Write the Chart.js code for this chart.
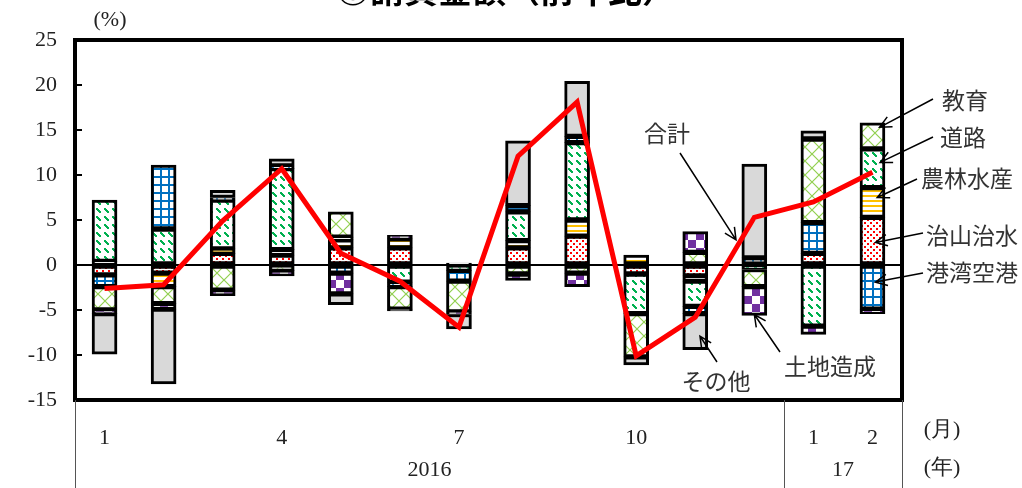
<!DOCTYPE html>
<html>
<head>
<meta charset="utf-8">
<script src="https://cdn.jsdelivr.net/npm/chart.js@4.4.1/dist/chart.umd.min.js"></script>
<style>
  body { margin: 0; background: #fff; }
  #wrap { width: 1022px; height: 488px; }
</style>
</head>
<body>
<div id="wrap"><canvas id="c" width="1022" height="488"></canvas></div>
<script>
// months Jan 2016 .. Feb 2017
const monthLabels = ['1', '', '', '4', '', '', '7', '', '', '10', '', '', '1', '2'];
const yearLabels = ['2016', '17'];

// contribution by work type (percentage points)
const chisan = [-1.1, -0.9, 1.3, 1.1, 1.9, 1.9, 0.2, 1.9, 3.2, -1.0, -1.2, null, 1.3, 5.3];
const nourin = [0.4, -1.5, 0.5, 0.6, 0.9, 1.0, null, 0.8, 1.8, 1.1, -0.6, null, null, 3.3];
const douro = [6.8, 4.0, 5.4, 9.0, 0.3, -1.9, -0.6, 3.2, 8.6, -4.4, -2.8, -0.5, -6.8, 4.3];
const kouwan = [-1.3, 7.1, 0.3, 0.3, -0.9, -0.5, -1.2, 0.7, 0.7, null, -0.8, 0.8, 3.4, -4.9];
const kyouiku = [-2.6, -1.9, -2.8, -0.6, 2.8, -2.5, -3.4, -1.0, -0.9, -4.8, 1.4, -1.9, 9.3, 2.9];
const tochi = [-0.4, -0.6, -0.6, -0.6, -2.3, 0.4, -0.3, -0.7, -1.5, null, 2.3, -3.2, -0.9, -0.5];
const sonota = [-4.5, -8.3, 0.8, 0.8, -1.2, -0.2, -1.6, 7.2, 6.1, -0.9, -4.0, 10.4, 0.9, null];
const total = [-2.6, -2.2, 4.9, 10.7, 1.3, -1.8, -6.9, 12.1, 18.1, -10.1, -5.8, 5.3, 7.0, 10.3];

const serif = "'Liberation Serif', 'DejaVu Serif', serif";
const jp = "'Noto Sans CJK JP', sans-serif";

const ctx = document.getElementById('c').getContext('2d');

function pattern(size, draw) {
    const c = document.createElement('canvas');
    c.width = c.height = size;
    const g = c.getContext('2d');
    g.fillStyle = '#fff';
    g.fillRect(0, 0, size, size);
    draw(g);
    return ctx.createPattern(c, 'repeat');
}

const pGrid = pattern(8, g => {
    g.fillStyle = '#0070C0';
    g.fillRect(0, 0, 2, 8);
    g.fillRect(0, 0, 8, 2);
});
const pDots = pattern(6, g => {
    g.fillStyle = '#FF0000';
    g.fillRect(0, 0, 2, 2);
    g.fillRect(3, 3, 2, 2);
});
const pStripe = pattern(5, g => {
    g.fillStyle = '#FFC000';
    g.fillRect(0, 0, 5, 2);
});
const pDiag = pattern(8, g => {
    g.fillStyle = '#00B050';
    for (let i = 0; i < 4; i++) g.fillRect(i, i, 2, 2);
});
const pCross = pattern(14, g => {
    g.strokeStyle = '#92D050';
    g.lineWidth = 1.2;
    g.beginPath();
    g.moveTo(0, 0); g.lineTo(14, 14);
    g.moveTo(14, 0); g.lineTo(0, 14);
    g.stroke();
});
const pCheck = pattern(16, g => {
    g.fillStyle = '#7030A0';
    g.fillRect(0, 0, 8, 8);
    g.fillRect(8, 8, 8, 8);
});

function barSet(label, data, fill) {
    return {
        type: 'bar', label, data, stack: 'all',
        backgroundColor: fill, borderColor: '#000', borderWidth: 3,
        borderSkipped: false, barThickness: 25,
    };
}

// annotation labels: text position, arrow tail, arrow tip as [category index, value]
const notes = [
    { text: '合計', tx: 667, ty: 133, from: [680, 153], at: [10.69, 2.8] },
    { text: 'その他', tx: 716, ty: 381, from: [717, 362], at: [10.08, -7.9] },
    { text: '土地造成', tx: 830, ty: 366, from: [780, 352], at: [11.0, -5.5] },
    { text: '教育', tx: 965, ty: 100, from: [933, 99], at: [13.12, 15.3] },
    { text: '道路', tx: 963, ty: 137, from: [933, 137], at: [13.13, 11.4] },
    { text: '農林水産', tx: 967, ty: 178, from: [917, 179], at: [13.08, 7.5] },
    { text: '治山治水', tx: 972, ty: 235, from: [923, 233], at: [13.05, 2.5] },
    { text: '港湾空港', tx: 972, ty: 272, from: [923, 273], at: [13.05, -1.9] },
];

function arrow(c, x1, y1, x2, y2) {
    const a = Math.atan2(y2 - y1, x2 - x1);
    c.beginPath();
    c.moveTo(x1, y1); c.lineTo(x2, y2);
    c.moveTo(x2 - 13 * Math.cos(a - 0.45), y2 - 13 * Math.sin(a - 0.45));
    c.lineTo(x2, y2);
    c.lineTo(x2 - 13 * Math.cos(a + 0.45), y2 - 13 * Math.sin(a + 0.45));
    c.stroke();
}

const decor = {
    id: 'decor',
    afterDraw(chart) {
        const c = chart.ctx, a = chart.chartArea;
        const xs = chart.scales.x, ys = chart.scales.y;
        c.save();
        // frame
        c.strokeStyle = '#000';
        c.lineWidth = 4;
        c.strokeRect(a.left, a.top, a.right - a.left, a.bottom - a.top);
        // inner ticks
        c.lineWidth = 2;
        ys.ticks.forEach(t => {
            const y = ys.getPixelForValue(t.value);
            c.beginPath(); c.moveTo(a.left, y); c.lineTo(a.left + 7, y); c.stroke();
        });
        // category table lines below the axis
        const split = (xs.getPixelForValue(11) + xs.getPixelForValue(12)) / 2;
        c.strokeStyle = '#555';
        c.lineWidth = 1;
        [a.left, split, a.right].forEach(x => {
            c.beginPath(); c.moveTo(Math.round(x) + 0.5, a.bottom); c.lineTo(Math.round(x) + 0.5, 488); c.stroke();
        });
        c.fillStyle = '#222';
        c.font = '22px ' + serif;
        c.textAlign = 'center';
        c.textBaseline = 'middle';
        c.fillText(yearLabels[0], (a.left + split) / 2, 470);
        c.fillText(yearLabels[1], (split + a.right) / 2, 470);
        c.fillText('(月)', 942, 430);
        c.fillText('(年)', 942, 468);
        c.fillText('(%)', 110, 20);
        // annotations
        c.strokeStyle = '#000';
        c.lineWidth = 1.5;
        c.font = '23px ' + jp;
        c.fillStyle = '#333';
        notes.forEach(n => {
            c.fillText(n.text, n.tx, n.ty);
            arrow(c, n.from[0], n.from[1], xs.getPixelForValue(n.at[0]), ys.getPixelForValue(n.at[1]));
        });
        // title, cut by the top edge
        c.font = 'bold 34px ' + jp;
        c.textBaseline = 'alphabetic';
        c.fillStyle = '#000';
        c.fillText('◎請負金額（前年比）', 506, 3);
        c.restore();
    }
};

new Chart(ctx, {
    data: {
        labels: monthLabels,
        datasets: [
            {
                type: 'line', label: '合計', data: total, order: -1,
                borderColor: '#FF0000', borderWidth: 5, pointRadius: 0, tension: 0,
            },
            barSet('治山治水', chisan, pDots),
            barSet('農林水産', nourin, pStripe),
            barSet('道路', douro, pDiag),
            barSet('港湾空港', kouwan, pGrid),
            barSet('教育', kyouiku, pCross),
            barSet('土地造成', tochi, pCheck),
            barSet('その他', sonota, '#D9D9D9'),
        ],
    },
    options: {
        responsive: false,
        animation: false,
        layout: { padding: { top: 40, right: 120 } },
        plugins: {
            legend: { display: false },
            tooltip: { enabled: false },
        },
        scales: {
            x: {
                stacked: true,
                afterFit: s => { s.height = 88; },
                grid: { display: false },
                border: { display: false },
                ticks: {
                    autoSkip: false, maxRotation: 0, padding: 17,
                    color: '#222', font: { family: serif, size: 22 },
                },
            },
            y: {
                stacked: true,
                min: -15, max: 25,
                afterFit: s => { s.width = 75; },
                grid: {
                    drawTicks: false,
                    color: t => t.tick && t.tick.value === 0 ? '#000' : 'transparent',
                    lineWidth: 2,
                },
                border: { display: false },
                ticks: {
                    stepSize: 5, padding: 18,
                    color: '#222', font: { family: serif, size: 22 },
                },
            },
        },
    },
    plugins: [decor],
});
</script>
</body>
</html>
